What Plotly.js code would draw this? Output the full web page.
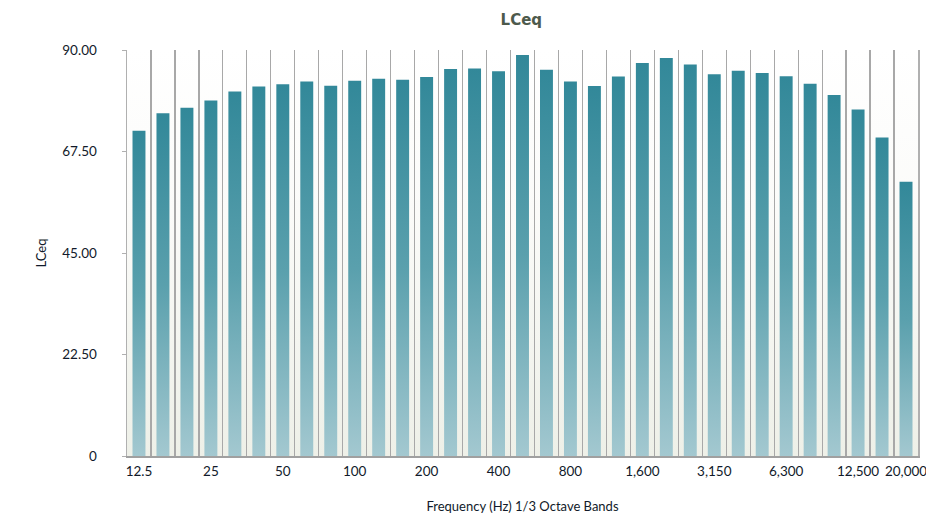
<!DOCTYPE html>
<html>
<head>
<meta charset="utf-8">
<script src="https://cdn.plot.ly/plotly-3.0.1.min.js"></script>
<style>
  html, body { margin: 0; padding: 0; background: #ffffff; }
  #chart { width: 926px; height: 518px; }
</style>
</head>
<body>
<div id="chart"></div>
<script>
// 1/3 octave band centre frequencies (Hz)
const bands = ["12.5","16","20","25","31.5","40","50","63","80","100","125","160","200","250","315","400","500","630","800","1,000","1,250","1,600","2,000","2,500","3,150","4,000","5,000","6,300","8,000","10,000","12,500","16,000","20,000"];
// LCeq level per band (dB)
const lceq = [72.1, 76.0, 77.2, 78.8, 80.8, 81.9, 82.4, 83.0, 82.1, 83.2, 83.6, 83.4, 84.0, 85.8, 85.9, 85.3, 88.9, 85.6, 83.0, 82.0, 84.1, 87.1, 88.2, 86.8, 84.6, 85.4, 84.9, 84.2, 82.5, 80.0, 76.8, 70.6, 60.8];
// bands that carry a visible tick label
const labelledBands = ["12.5","25","50","100","200","400","800","1,600","3,150","6,300","12,500","20,000"];
const yTickVals = [0, 22.5, 45, 67.5, 90];
const yTickText = ["0", "22.50", "45.00", "67.50", "90.00"];

const xTickText = bands.map(b => labelledBands.includes(b) ? b : "");

const trace = {
  type: "bar",
  x: bands,
  y: lceq,
  marker: { color: "#3f8f9d", line: { width: 0 } },
  hoverinfo: "x+y"
};

const font = "Lato, 'Open Sans', 'DejaVu Sans', sans-serif";

const layout = {
  width: 926,
  height: 518,
  margin: { l: 127, r: 8, t: 50, b: 62 },
  paper_bgcolor: "#ffffff",
  plot_bgcolor: "#f7f8f3",
  bargap: 0.46,
  showlegend: false,
  font: { family: font, size: 13, color: "#111a2a" },
  title: {
    text: "<b>LCeq</b>",
    font: { family: "'DejaVu Sans', sans-serif", size: 15, color: "#4d5a4c" },
    x: 0.563, xanchor: "center",
    y: 0.962, yanchor: "middle"
  },
  xaxis: {
    type: "category",
    tickmode: "array",
    tickvals: bands,
    ticktext: xTickText,
    tickangle: 0,
    tickson: "boundaries",
    ticks: "",
    showgrid: true,
    gridcolor: "#a8a8a8",
    gridwidth: 1.2,
    showline: true,
    linecolor: "#a0a0a0",
    linewidth: 2,
    mirror: false,
    tickfont: { family: font, size: 13.5, color: "#111a2a" },
    ticklabelstandoff: 2,
    title: {
      text: "Frequency (Hz) 1/3 Octave Bands",
      font: { family: font, size: 13, color: "#111a2a" },
      standoff: 24
    },
    automargin: false,
    fixedrange: true
  },
  yaxis: {
    range: [0, 90],
    tickmode: "array",
    tickvals: yTickVals,
    ticktext: yTickText,
    ticks: "outside",
    ticklen: 4,
    tickcolor: "#b0b0b0",
    showgrid: false,
    zeroline: false,
    showline: true,
    mirror: true,
    linecolor: "#b0b0b0",
    linewidth: 1.5,
    tickfont: { family: font, size: 13.5, color: "#111a2a" },
    ticklabelstandoff: 22,
    title: {
      text: "LCeq",
      font: { family: font, size: 13, color: "#111a2a" },
      standoff: 12
    },
    automargin: false,
    fixedrange: true
  }
};

Plotly.newPlot("chart", [trace], layout, { displayModeBar: false, staticPlot: true }).then(gd => {
  const svg = gd.querySelector("svg.main-svg");
  const ns = "http://www.w3.org/2000/svg";
  let defs = svg.querySelector("defs");
  if (!defs) { defs = document.createElementNS(ns, "defs"); svg.insertBefore(defs, svg.firstChild); }
  function grad(id, stops) {
    const g = document.createElementNS(ns, "linearGradient");
    g.setAttribute("id", id);
    g.setAttribute("x1", "0"); g.setAttribute("y1", "0");
    g.setAttribute("x2", "0"); g.setAttribute("y2", "1");
    stops.forEach(([o, c]) => {
      const s = document.createElementNS(ns, "stop");
      s.setAttribute("offset", o);
      s.setAttribute("stop-color", c);
      g.appendChild(s);
    });
    defs.appendChild(g);
  }
  grad("barGrad", [["0", "#328899"], ["0.5", "#5aa0ad"], ["1", "#a3c8d0"]]);
  grad("bgGrad", [["0", "#ffffff"], ["0.4", "#fbfbf9"], ["1", "#eef0e8"]]);
  gd.querySelectorAll(".bars .point path").forEach(p => { p.style.fill = "url(#barGrad)"; });
  const bg = gd.querySelector(".bglayer rect.bg");
  if (bg) bg.style.fill = "url(#bgGrad)";
});
</script>
</body>
</html>
